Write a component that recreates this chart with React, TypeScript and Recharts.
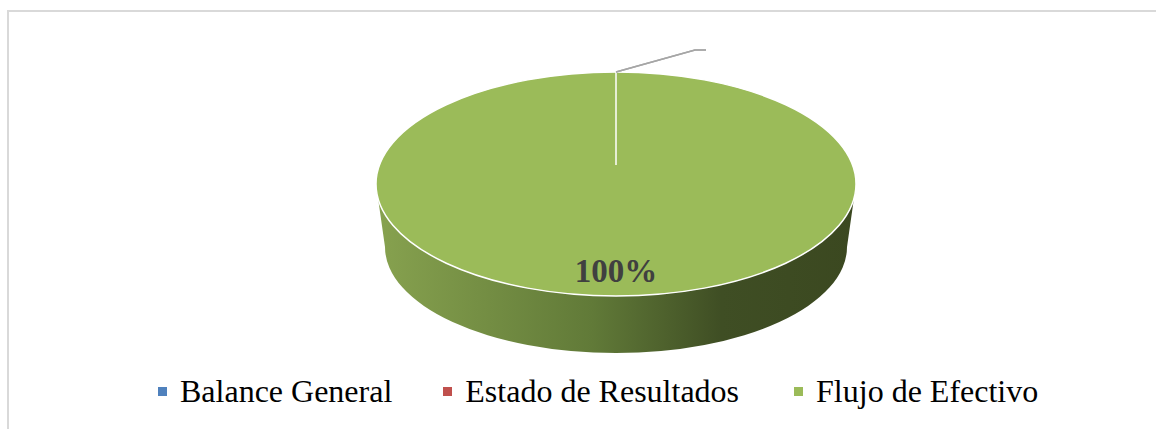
import { Cell, Legend, Pie, PieChart } from 'recharts';

const categories = ['Balance General', 'Estado de Resultados', 'Flujo de Efectivo'];
const values = [0, 0, 100];
const colors = ['#4f81bd', '#c0504d', '#9bbb59'];

const data = categories.map((name, i) => ({ name, value: values[i] }));

const RAD = Math.PI / 180;
const TILT = 112 / 240; // vertical squash of the top ellipse
const DEPTH = 63;
const serif = '"Liberation Serif", "Times New Roman", serif';
const legendGaps = [51, 55, 0];

// elliptical slice with a front wall, drawn from the sector angles recharts gives
function Slice3D(props: any) {
    const { cx, cy, outerRadius, startAngle, endAngle, fill, value } = props;
    if (!value) return <g />;
    const rx = outerRadius;
    const ry = outerRadius * TILT;
    const hubY = cy - ry * 0.17;
    const pt = (a: number) => [cx + rx * Math.cos(a * RAD), cy - ry * Math.sin(a * RAD)];
    const [sx, sy] = pt(startAngle);
    const [ex, ey] = pt(endAngle);
    const span = Math.abs(startAngle - endAngle);

    // bottom ellipse a bit narrower (perspective)
    const bx = rx - 9;
    const by = ry - 6;
    const bcy = cy + DEPTH;
    const side = `M ${cx - rx} ${cy} L ${cx - bx} ${bcy} A ${bx} ${by} 0 0 0 ${cx + bx} ${bcy} L ${cx + rx} ${cy} A ${rx} ${ry} 0 0 1 ${cx - rx} ${cy} Z`;

    return (
        <g>
            <defs>
                <linearGradient id="sideGrad" x1="0" y1="0" x2="1" y2="0">
                    <stop offset="0%" stopColor="#87a24f" />
                    <stop offset="45%" stopColor="#617a38" />
                    <stop offset="72%" stopColor="#3f4e24" />
                    <stop offset="100%" stopColor="#3b4820" />
                </linearGradient>
            </defs>
            <path d={side} fill="url(#sideGrad)" />
            {span >= 359.99 ? (
                <>
                    <ellipse cx={cx} cy={cy} rx={rx} ry={ry} fill={fill} stroke="#ffffff" strokeWidth={1.5} />
                    <line x1={cx} y1={hubY} x2={sx} y2={sy} stroke="#ffffff" strokeWidth={1.5} />
                </>
            ) : (
                <path
                    d={`M ${cx} ${hubY} L ${sx} ${sy} A ${rx} ${ry} 0 ${span > 180 ? 1 : 0} 1 ${ex} ${ey} Z`}
                    fill={fill}
                    stroke="#ffffff"
                    strokeWidth={1.5}
                />
            )}
        </g>
    );
}

function renderLabel(props: any) {
    const { cx, cy, midAngle, outerRadius, value, percent } = props;
    const rx = outerRadius;
    const ry = outerRadius * TILT;
    const c = Math.cos(midAngle * RAD);
    const s = Math.sin(midAngle * RAD);
    if (!value) {
        const x0 = cx + rx * c;
        const y0 = cy - ry * s;
        return (
            <polyline
                points={`${x0},${y0} ${x0 + 79},${y0 - 22} ${x0 + 90},${y0 - 22}`}
                fill="none"
                stroke="#a6a6a6"
                strokeWidth={1.5}
            />
        );
    }
    return (
        <text
            x={cx + rx * 0.78 * c}
            y={cy - ry * 0.78 * s}
            textAnchor="middle"
            dominantBaseline="central"
            fill="#404040"
            fontFamily={serif}
            fontWeight="bold"
            fontSize={33}
        >
            {`${Math.round(percent * 100)}%`}
        </text>
    );
}

function renderLegend() {
    return (
        <div style={{ display: 'flex', paddingLeft: 158, fontFamily: serif, fontSize: 32, color: '#000', lineHeight: '32px' }}>
            {categories.map((name, i) => (
                <div key={name} style={{ display: 'flex', alignItems: 'center', marginRight: legendGaps[i] }}>
                    <span style={{ display: 'inline-block', width: 9, height: 9, background: colors[i], marginRight: 13 }} />
                    <span>{name}</span>
                </div>
            ))}
        </div>
    );
}

export default function App() {
    return (
        <div style={{ position: 'absolute', left: 0, top: 0, width: 1156, height: 429, background: '#fff' }}>
            <div
                style={{
                    position: 'absolute',
                    left: 7,
                    top: 10,
                    width: 1160,
                    height: 430,
                    borderTop: '2px solid #d9d9d9',
                    borderLeft: '2px solid #d9d9d9',
                }}
            />
            <PieChart width={1156} height={429} style={{ position: 'absolute', left: 0, top: 0 }}>
                <Pie
                    data={data}
                    dataKey="value"
                    nameKey="name"
                    cx={611}
                    cy={179}
                    outerRadius={240}
                    startAngle={90}
                    endAngle={-270}
                    stroke="none"
                    labelLine={false}
                    label={renderLabel}
                    shape={Slice3D}
                    isAnimationActive={false}
                >
                    {data.map((_, index) => (
                        <Cell key={`cell-${index}`} fill={colors[index]} />
                    ))}
                </Pie>
                <Legend content={renderLegend} wrapperStyle={{ position: 'absolute', top: 375, left: 0, width: 1156 }} />
            </PieChart>
        </div>
    );
}
